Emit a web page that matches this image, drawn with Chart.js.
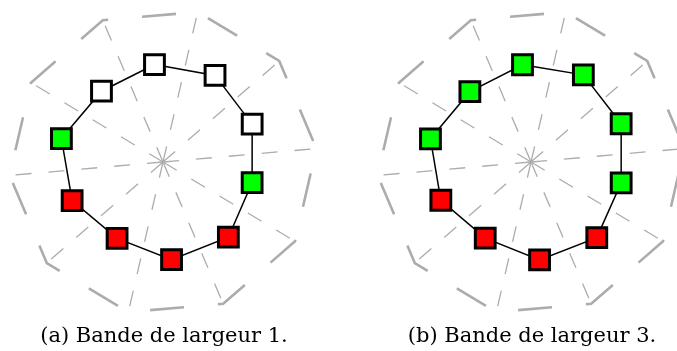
<!DOCTYPE html>
<html>
<head>
<meta charset="utf-8">
<script src="https://cdn.jsdelivr.net/npm/chart.js@4/dist/chart.umd.min.js"></script>
<style>
html,body{margin:0;padding:0;background:#fff;width:677px;height:351px;overflow:hidden;}
.c{position:absolute;width:308px;height:308px;}
.cap{position:absolute;top:325px;width:320px;text-align:center;font-family:"DejaVu Serif",serif;font-size:21px;line-height:21px;color:#000;white-space:nowrap;}
</style>
</head>
<body>
<div class="c" style="left:9px;top:8px"><canvas id="gridA" width="308" height="308"></canvas></div>
<div class="c" style="left:9px;top:8px"><canvas id="dataA" width="308" height="308"></canvas></div>
<div class="c" style="left:377px;top:8px"><canvas id="gridB" width="308" height="308"></canvas></div>
<div class="c" style="left:377px;top:8px"><canvas id="dataB" width="308" height="308"></canvas></div>
<div class="cap" id="capA" style="left:4px"></div>
<div class="cap" id="capB" style="left:372px"></div>
<script>
// ---- data ----
const categories = ['1','2','3','4','5','6','7','8','9','10'];
const valuesA = [0.635, 0.656, 0.629, 0.594, 0.647, 0.637, 0.579, 0.641, 0.677, 0.609];
const valuesB = [0.634, 0.660, 0.636, 0.601, 0.651, 0.638, 0.577, 0.636, 0.670, 0.605];
// state of each node: 'none' (white), 'in' (green), 'out' (red)
const statusA = ['none','none','none','in','out','out','out','out','in','none'];
const statusB = ['in','in','in','in','out','out','out','out','in','in'];
const captionA = '(a) Bande de largeur 1.';
const captionB = '(b) Bande de largeur 3.';

// ---- styles ----
const stateColor = {none:'#ffffff', in:'#00ff00', out:'#ff0000'};
const gridStart = 13;
const dataStart = -5;

document.getElementById('capA').textContent = captionA;
document.getElementById('capB').textContent = captionB;

function gridChart(id){
  new Chart(document.getElementById(id), {
    type:'radar',
    data:{labels:categories, datasets:[{data:[]}]},
    options:{
      responsive:false, animation:false,
      layout:{padding:0},
      plugins:{legend:{display:false}, tooltip:{enabled:false}},
      scales:{r:{
        min:0, max:1, startAngle:gridStart,
        ticks:{display:false, stepSize:1},
        pointLabels:{display:false},
        angleLines:{display:true, color:'#acacac', lineWidth:1.3, borderDash:[16,17], borderDashOffset:0},
        grid:{color:'#acacac', lineWidth:2.6, borderDash:[34,34], borderDashOffset:56},
        border:{dash:[34,34], dashOffset:56}
      }}
    }
  });
}
function dataChart(id, values, status){
  new Chart(document.getElementById(id), {
    type:'radar',
    data:{labels:categories, datasets:[{
      data:values,
      fill:false,
      borderColor:'#000', borderWidth:1.5, tension:0,
      pointStyle:'rect', pointRadius:14, pointHoverRadius:14,
      pointBorderWidth:3, pointBorderColor:'#000',
      pointBackgroundColor: status.map(s=>stateColor[s])
    }]},
    options:{
      responsive:false, animation:false,
      layout:{padding:0},
      plugins:{legend:{display:false}, tooltip:{enabled:false}},
      scales:{r:{
        min:0, max:1, startAngle:dataStart,
        ticks:{display:false},
        pointLabels:{display:false},
        grid:{display:false},
        angleLines:{display:false}
      }}
    }
  });
}
gridChart('gridA'); dataChart('dataA', valuesA, statusA);
gridChart('gridB'); dataChart('dataB', valuesB, statusB);
</script>
</body>
</html>
